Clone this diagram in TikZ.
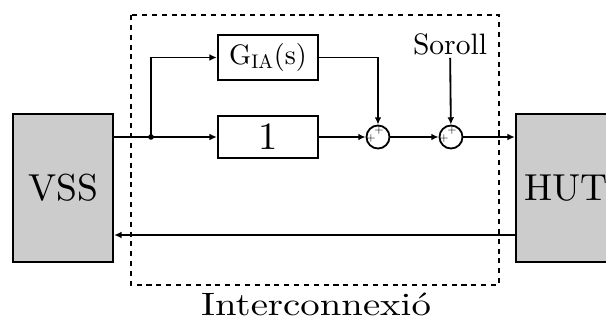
\documentclass[tikz,border=0pt]{standalone}
\usepackage{fontspec}
\setmainfont{lmroman10-regular.otf}
\usetikzlibrary{positioning,arrows.meta}
\tikzset{
	sysbox/.style={draw, line width=1.7pt, fill=black!20, minimum width=2.5cm, minimum height=3.7cm, inner sep=0pt, font=\fontsize{26.7}{30}\selectfont},
	blockbox/.style={draw, line width=1.7pt, minimum width=2.5cm, inner sep=0pt},
	sumnode/.style={draw, circle, line width=1.3pt, minimum size=0.575cm, inner sep=0pt},
	plussign/.style={inner sep=-0.6pt, text=black, font=\fontsize{8.5}{9}\selectfont},
	wire/.style={line width=1.3pt},
	signal/.style={wire, -{Latex[length=5.2pt,width=4.8pt]}}
}

\begin{document}
\begin{tikzpicture}[x=0.025cm, y=-0.025cm]
			\useasboundingbox (0,0) rectangle (606,321);
			
			% systems
			\node[sysbox] (vss) at (63,188) {VSS};
			\node[sysbox] (hut) at (566,188) {HUT};
			
			% interconnection blocks
			\node[blockbox, minimum height=1.125cm, font=\fontsize{20}{22}\selectfont] (gia) at (268,57.5) {G\textsubscript{IA}(s)};
			\node[blockbox, minimum height=1.05cm, font=\fontsize{27.5}{30}\selectfont] (one) at (268,137) {1};
			\node[sumnode] (sum1) at (378,137) {};
			\node[sumnode] (sum2) at (451,137) {};
			\foreach \s in {sum1,sum2} {
				\node[plussign] at ([xshift=0.8pt,yshift=4.9pt]\s.center) {+};
				\node[plussign] at ([xshift=-4.9pt,yshift=-0.8pt]\s.center) {+};
			}
			\node[inner sep=2pt, font=\fontsize{21}{24}\selectfont] (soroll) at (450,44) {Soroll};
			\coordinate (junc) at (151,137);
			\coordinate (back) at (316,235);
			
			% connections
			\draw[wire] (vss.east |- junc) -- (junc);
			\fill (junc) circle (2.8);
			\draw[signal] (junc) -- (one);
			\draw[signal] (junc) |- (gia);
			\draw[signal] (one) -- (sum1);
			\draw[signal] (gia) -| (sum1);
			\draw[signal] (soroll) -- (sum2);
			\draw[signal] (sum1) -- (sum2);
			\draw[signal] (sum2) -- (hut.west |- sum2);
			\draw[signal] (hut.west |- back) -- (vss.east |- back);
			
			% interconnection frame
			\draw[line width=1.5pt, dash pattern=on 3.6pt off 3.4pt] (131,15) rectangle (499,285);
			\node[font=\fontsize{23}{26}\selectfont, anchor=base] (inter) at (316,316) {\scalebox{1.2}[1]{Interconnexió}};
\end{tikzpicture}
\end{document}
